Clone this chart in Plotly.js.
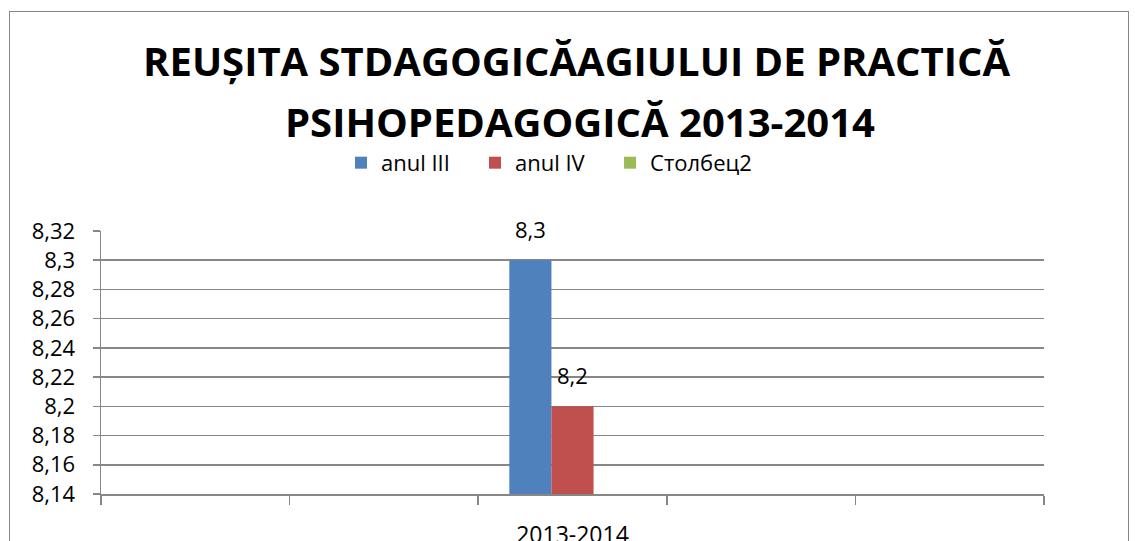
<!DOCTYPE html>
<html>
<head>
<meta charset="utf-8">
<script src="https://cdn.plot.ly/plotly-3.0.1.min.js"></script>
<style>
  html, body { margin: 0; padding: 0; background: #fff; }
  #chart { width: 1135px; height: 541px; }
  #frame { position: absolute; left: 9px; top: 11px; width: 1120px; height: 560px;
           border: 1.5px solid #868686; pointer-events: none; box-sizing: border-box; }
</style>
</head>
<body>
<div id="chart"></div>
<div id="frame"></div>
<script>
// ---- data ----
const categoryLabels = ["", "", "2013-2014", "", ""];
const seriesNames = ["anul III", "anul IV", "Столбец2"];
const anulIII = [null, null, 8.3, null, null];
const anulIV = [null, null, 8.2, null, null];
const stolbec2 = [null, null, null, null, null];
const yTicks = [8.14, 8.16, 8.18, 8.2, 8.22, 8.24, 8.26, 8.28, 8.3, 8.32];
const titleLines = ["REUȘITA STDAGOGICĂAGIULUI DE PRACTICĂ", "PSIHOPEDAGOGICĂ 2013-2014"];

// ---- style ----
const colors = ["#4F81BD", "#C0504D", "#9BBB59"];
const FONT = "Open Sans, Noto Sans, DejaVu Sans, sans-serif";
const gray = "#878787";
const bargap = 0.33;
const legendX = [0.2545, 0.3966, 0.5398];
const legendIds = ["legend", "legend2", "legend3"];

const keys = categoryLabels.map((l, i) => "k" + i);
const seriesValues = [anulIII, anulIV, stolbec2];
const fmt = v => String(v).replace(".", ",");

const traces = seriesValues.map((vals, s) => ({
  type: "bar",
  name: seriesNames[s],
  x: keys,
  y: vals,
  legend: legendIds[s],
  marker: { color: colors[s] },
  hoverinfo: "skip"
}));

// data labels above bars, positioned from the data and the bar geometry
const nSeries = seriesValues.length;
const barW = (1 - bargap) / nSeries;
const annotations = [];
seriesValues.forEach((vals, s) => {
  vals.forEach((v, i) => {
    if (v === null) return;
    annotations.push({
      xref: "x", yref: "y",
      x: i - (1 - bargap) / 2 + barW * (s + 0.5),
      y: v,
      text: fmt(v),
      showarrow: false,
      yanchor: "bottom",
      yshift: 14,
      font: { family: FONT, size: 22, color: "#000" }
    });
  });
});

const titleFont = { family: FONT, size: 40, weight: 700, color: "#000" };

// second title line (wider line spacing than Plotly's <br> allows)
annotations.push({
  xref: "paper", yref: "paper",
  x: 0.508, xanchor: "center",
  y: 1.418, yanchor: "middle",
  text: titleLines[1],
  showarrow: false,
  borderpad: 0,
  font: titleFont
});

const layout = {
  width: 1135, height: 541,
  margin: { l: 101, r: 91, t: 231, b: 47 },
  paper_bgcolor: "#fff", plot_bgcolor: "#fff",
  separators: ",.",
  font: { family: FONT, size: 22, color: "#000" },
  title: {
    text: titleLines[0],
    font: titleFont,
    x: 0.508, xanchor: "center",
    yref: "container", y: 0.912, yanchor: "top"
  },
  showlegend: true,
  barmode: "group",
  bargap: bargap,
  bargroupgap: 0,
  xaxis: {
    type: "category",
    categoryorder: "array", categoryarray: keys,
    tickmode: "array", tickvals: keys, ticktext: categoryLabels,
    tickson: "boundaries",
    range: [-0.5, categoryLabels.length - 0.5],
    ticks: "outside", ticklen: 9, tickwidth: 1.5, tickcolor: gray,
    showline: true, linecolor: gray, linewidth: 1.5,
    showgrid: false, zeroline: false,
    ticklabelstandoff: 20,
    tickfont: { family: FONT, size: 23, color: "#000" },
    fixedrange: true
  },
  yaxis: {
    range: [8.14, 8.32],
    tickmode: "array", tickvals: yTicks, ticktext: yTicks.map(fmt),
    ticks: "outside", ticklen: 7, tickwidth: 1.5, tickcolor: gray,
    showline: true, linecolor: gray, linewidth: 1.5,
    showgrid: true, gridcolor: gray, gridwidth: 1.5,
    zeroline: false,
    ticklabelstandoff: 13,
    tickfont: { family: FONT, size: 22, color: "#000" },
    fixedrange: true
  },
  annotations: annotations
};

legendIds.forEach((id, s) => {
  layout[id] = {
    orientation: "h",
    x: legendX[s], xanchor: "left",
    y: 1.259, yanchor: "middle",
    font: { family: FONT, size: 22, color: "#000" },
    bgcolor: "rgba(0,0,0,0)"
  };
});

Plotly.newPlot("chart", traces, layout, { displayModeBar: false, staticPlot: true });
</script>
</body>
</html>
